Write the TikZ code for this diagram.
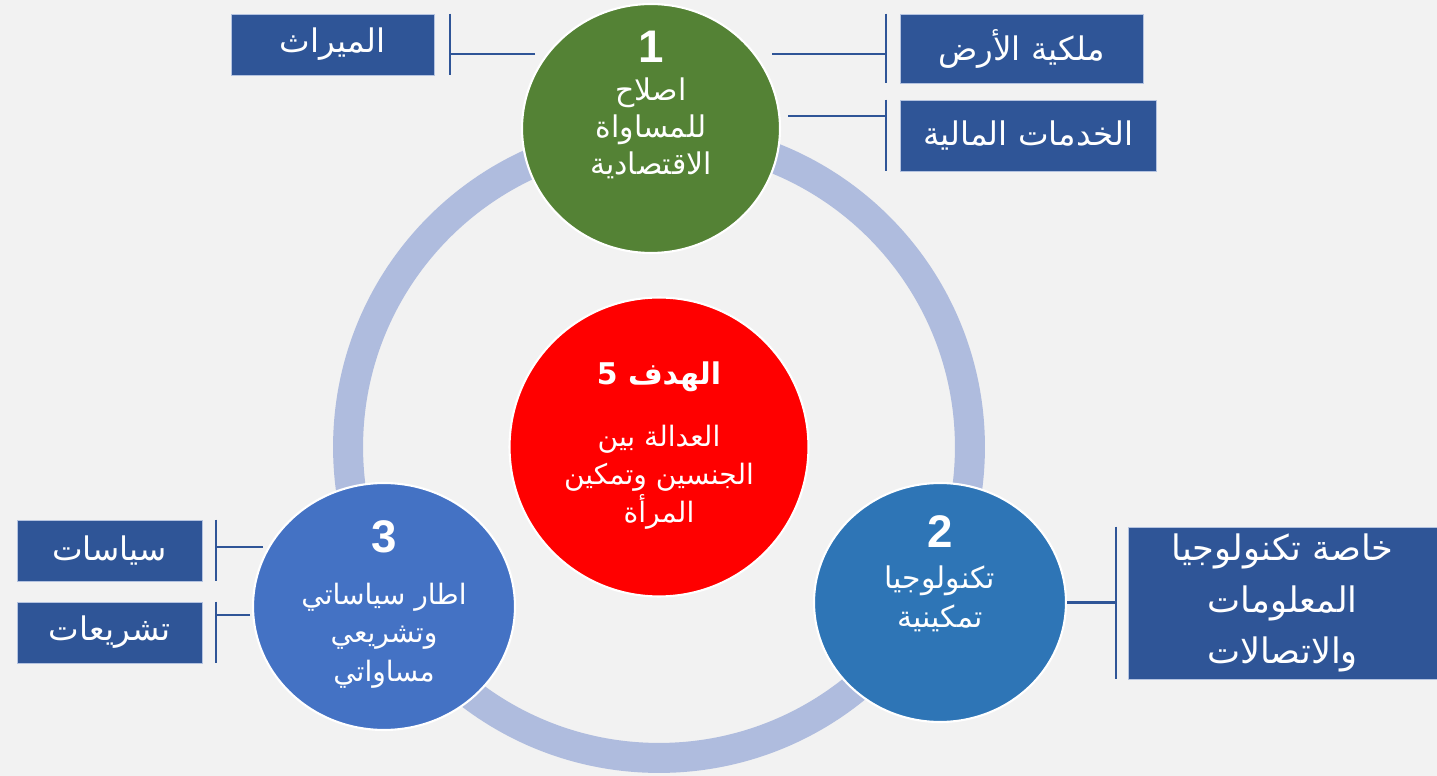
\documentclass[tikz,border=0pt]{standalone}
\usepackage{fontspec}
\usepackage{xcolor}
\usepackage{tikz}
\newfontfamily\arabicfont[Script=Arabic]{DejaVu Sans}
\newfontfamily\numfont{Liberation Sans}
\TeXXeTstate=1
\usetikzlibrary{shapes.geometric,positioning,calc}

\definecolor{bgcol}{HTML}{F2F2F2}
\definecolor{ringcol}{HTML}{AFBCDE}
\definecolor{greencol}{HTML}{548235}
\definecolor{bluetwo}{HTML}{2E75B6}
\definecolor{bluethree}{HTML}{4472C4}
\definecolor{redcol}{HTML}{FF0000}
\definecolor{boxblue}{HTML}{2F5597}
\definecolor{boxedge}{HTML}{B4C3E0}

\newcommand{\ar}[1]{{\arabicfont\beginR #1\endR}}

\tikzset{
  goal/.style={ellipse, draw=white, line width=1.2pt, inner sep=0pt},
  topic/.style={rectangle, fill=boxblue, draw=boxedge, line width=0.4pt, text=white, align=center, inner sep=0pt},
  link/.style={draw=boxblue, line width=1.2pt},
  ring/.style={draw=ringcol, line width=0.6cm},
  num/.style={text=white, font=\numfont\bfseries\fontsize{26}{30}\selectfont},
  body/.style={text=white, align=center, font=\fontsize{17}{21}\selectfont},
}

\begin{document}
\begin{tikzpicture}[x=0.02cm, y=-0.02cm]
    \fill[bgcol] (0,0) rectangle (1437,776);
    \useasboundingbox (0,0) rectangle (1437,776);

    % ring behind the circles
    \coordinate (hub) at (659,447);
    \draw[ring] (hub) circle[radius=6.22cm];

    % circles
    \node[goal, fill=greencol, minimum width=5.16cm, minimum height=4.98cm] (c1) at (651,128.5) {};
    \node[goal, fill=bluetwo, minimum width=5.04cm, minimum height=4.78cm] (c2) at (940,602.5) {};
    \node[goal, fill=bluethree, minimum width=5.24cm, minimum height=4.94cm] (c3) at (384,606.5) {};
    \node[goal, fill=redcol, minimum width=5.98cm, minimum height=5.98cm] (c5) at (hub) {};

    \node[num] (n1) at ([yshift=1.63cm]c1.center) {1};
    \node[body, font=\fontsize{17}{21}\selectfont] (t1) at ([yshift=0.0cm]c1.center) {\ar{اصلاح}\\\ar{للمساواة}\\\ar{الاقتصادية}};

    \node[num] (n2) at ([yshift=1.41cm]c2.center) {2};
    \node[body, font=\fontsize{17}{22.5}\selectfont] (t2) at ([yshift=0.07cm]c2.center) {\ar{تكنولوجيا}\\\ar{تمكينية}};

    \node[num] (n3) at ([yshift=1.39cm]c3.center) {3};
    \node[body, font=\fontsize{16}{22}\selectfont] (t3) at ([yshift=-0.58cm]c3.center) {\ar{اطار سياساتي}\\\ar{وتشريعي}\\\ar{مساواتي}};

    \node[text=white, font=\fontsize{17}{22}\bfseries\selectfont] (n5) at ([yshift=1.4cm]c5.center) {\ar{الهدف 5}};
    \node[body, font=\fontsize{16}{21.5}\selectfont] (t5) at ([yshift=-0.6cm]c5.center) {\ar{العدالة بين}\\\ar{الجنسين وتمكين}\\\ar{المرأة}};

    % boxes
    \node[topic, minimum width=4.06cm, minimum height=1.22cm, font=\fontsize{18.5}{30}\selectfont] (inherit) at (332.5,44.5) {\ar{الميراث}};
    \node[topic, minimum width=4.86cm, minimum height=1.38cm, font=\fontsize{18.5}{30}\selectfont] (land) at (1021.5,48.5) {\ar{ملكية الأرض}};
    \node[topic, minimum width=5.12cm, minimum height=1.42cm, font=\fontsize{18.5}{30}\selectfont] (finance) at (1028,135.5) {\ar{الخدمات المالية}};
    \node[topic, minimum width=6.18cm, minimum height=3.04cm, font=\fontsize{20}{29.5}\selectfont] (ict) at (1282.5,603) {\ar{خاصة تكنولوجيا}\\\ar{المعلومات}\\\ar{والاتصالات}};
    \node[topic, minimum width=3.7cm, minimum height=1.22cm, font=\fontsize{18.5}{30}\selectfont] (policies) at (109.5,550.5) {\ar{سياسات}};
    \node[topic, minimum width=3.7cm, minimum height=1.22cm, font=\fontsize{18.5}{30}\selectfont] (laws) at (109.5,632.5) {\ar{تشريعات}};

    % brackets
    \coordinate (b1) at ([xshift=0.32cm]inherit.east);
    \coordinate (e1) at (535,54);
    \draw[link] (b1 |- inherit.north) -- (b1 |- inherit.south);
    \draw[link] (e1) -- (e1 -| b1);

    \coordinate (b2) at ([xshift=-0.28cm]land.west);
    \coordinate (e2) at (772,54);
    \draw[link] (b2 |- land.north) -- (b2 |- land.south);
    \draw[link] (e2) -- (e2 -| b2);

    \coordinate (b3) at ([xshift=-0.28cm]finance.west);
    \coordinate (e3) at (788,116);
    \draw[link] (b3 |- finance.north) -- (b3 |- finance.south);
    \draw[link] (e3) -- (e3 -| b3);

    \coordinate (b4) at ([xshift=-0.24cm]ict.west);
    \draw[link] (b4 |- ict.north) -- (b4 |- ict.south);
    \draw[link] (c2.east) -- (c2.east -| b4);

    \coordinate (b5) at ([xshift=0.28cm]policies.east);
    \coordinate (e5) at (263,547);
    \draw[link] (b5 |- policies.north) -- (b5 |- policies.south);
    \draw[link] (e5) -- (e5 -| b5);

    \coordinate (b6) at ([xshift=0.28cm]laws.east);
    \coordinate (e6) at (250,615);
    \draw[link] (b6 |- laws.north) -- (b6 |- laws.south);
    \draw[link] (e6) -- (e6 -| b6);
\end{tikzpicture}
\end{document}
